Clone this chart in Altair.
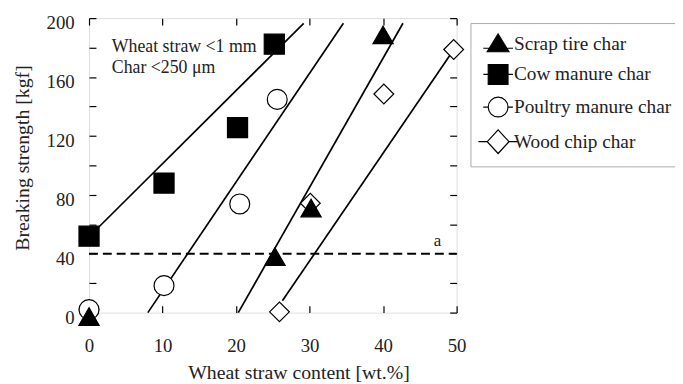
import altair as alt
import pandas as pd

series = ["Scrap tire char", "Cow manure char", "Poultry manure char", "Wood chip char"]

tire_x = [0, 25.3, 30.2, 40.0]
tire_y = [-2.7, 38, 71, 188.6]
cow_x = [0, 10.2, 20.2, 25.2]
cow_y = [51.9, 88, 125.7, 182.3]
poultry_x = [0, 10.2, 20.5, 25.6]
poultry_y = [2, 18.3, 73.8, 144.8]
wood_x = [0, 25.9, 30.1, 40.1, 49.6]
wood_y = [2, 0.5, 74.3, 148.5, 178.7]

# fitted lines (start / end points)
fit_x_start = [20.3, 0, 8.0, 26.3]
fit_y_start = [0, 51.5, 0, 8]
fit_x_end = [42.7, 29.2, 34.6, 49.6]
fit_y_end = [196.5, 196.5, 196.5, 178.5]

threshold = 40
threshold_label = "a"
threshold_label_pos = (47.4, 48.3)
note_lines = ["Wheat straw <1 mm", "Char <250 μm"]
note_x = [3.1, 3.1]
note_y = [180.5, 165.8]

x_ticks = [0, 10, 20, 30, 40, 50]
y_ticks = list(range(0, 201, 20))

FONT = "Liberation Serif"
TXT = "#222222"

rows = []
draw_order = {"Wood chip char": 0, "Poultry manure char": 1, "Cow manure char": 2, "Scrap tire char": 3}
for s, xs_, ys_ in zip(series, [tire_x, cow_x, poultry_x, wood_x], [tire_y, cow_y, poultry_y, wood_y]):
    for a, b in zip(xs_, ys_):
        rows.append({"series": s, "x": a, "y": b, "ord": draw_order[s]})
pts = pd.DataFrame(rows)

lrows = []
for s, x0, y0, x1, y1 in zip(series, fit_x_start, fit_y_start, fit_x_end, fit_y_end):
    lrows.append({"series": s, "x": x0, "y": y0})
    lrows.append({"series": s, "x": x1, "y": y1})
lines_df = pd.DataFrame(lrows)

xs = alt.Scale(domain=[0, 50], nice=False, zero=False)
ys = alt.Scale(domain=[0, 200], nice=False, zero=False)

shape_scale = alt.Scale(domain=series, range=["triangle-up", "square", "circle", "diamond"])
fill_scale = alt.Scale(domain=series, range=["black", "black", "white", "white"])
size_scale = alt.Scale(domain=series, range=[420, 400, 324, 529])
stroke_scale = alt.Scale(domain=series, range=["black", "black", "black", "black"])

legend_paths = [
    "M-1.5,0.45H1.5M0,-1L1.1,0.8H-1.1Z",
    "M-1.5,0H1.5M-1,-1H1V1H-1Z",
    "M-1.5,0H-1M1,0H1.5M1,0A1,1,0,1,1,-1,0A1,1,0,1,1,1,0Z",
    "M-2,0H-1.1M1.1,0H2M0,-1.2L1.1,0L0,1.2L-1.1,0Z",
]
legend_shape_scale = alt.Scale(domain=series, range=legend_paths)

common_axis = dict(
    grid=False, domain=False, tickSize=7, offset=-7, tickColor="black", tickWidth=1.2,
    labelFont=FONT, labelFontSize=19, labelColor=TXT, titleFont=FONT, titleFontSize=20,
    titleColor=TXT, titleFontWeight="normal", labelFlush=False,
)

lines = alt.Chart(lines_df).mark_line(color="black", strokeWidth=1.7).encode(
    x=alt.X("x:Q", scale=xs, axis=alt.Axis(
        orient="bottom", values=x_ticks, labelPadding=24, title="Wheat straw content [wt.%]",
        titlePadding=8, titleX=212, **common_axis)),
    y=alt.Y("y:Q", scale=ys, axis=alt.Axis(
        orient="left", values=y_ticks, labelPadding=15, labelOffset=5,
        labelExpr="datum.value % 40 == 0 ? datum.label : ''",
        title="Breaking strength [kgf]", titlePadding=14, titleY=141, **common_axis)),
    detail="series:N",
)

points = alt.Chart(pts).mark_point(stroke="black", strokeWidth=1.2, opacity=1, fillOpacity=1).encode(
    x=alt.X("x:Q", scale=xs, axis=alt.Axis(orient="top", values=x_ticks, labels=False, title=None, **common_axis)),
    y=alt.Y("y:Q", scale=ys, axis=alt.Axis(orient="right", values=y_ticks, labels=False, title=None, **common_axis)),
    shape=alt.Shape("series:N", scale=shape_scale, legend=None),
    fill=alt.Fill("series:N", scale=fill_scale, legend=None),
    size=alt.Size("series:N", scale=size_scale, legend=None),
    order=alt.Order("ord:Q"),
)

leg = dict(
    title=None, orient="none", legendX=386, legendY=5, symbolSize=400, symbolOffset=7,
    padding=10, rowPadding=7, labelOffset=5, labelFont=FONT, labelFontSize=19.5,
    labelColor=TXT, labelLimit=0, strokeColor="#aaaaaa", fillColor="white",
    symbolOpacity=1, symbolStrokeColor="black", symbolStrokeWidth=1.2,
)
legend_layer = alt.Chart(pts).mark_point(opacity=0, stroke="black").encode(
    x=alt.X("x:Q", scale=xs, axis=None),
    y=alt.Y("y:Q", scale=ys, axis=None),
    shape=alt.Shape("series:N", scale=legend_shape_scale, legend=alt.Legend(**leg)),
    fill=alt.Fill("series:N", scale=fill_scale, legend=alt.Legend(**leg)),
    stroke=alt.Stroke("series:N", scale=stroke_scale, legend=alt.Legend(**leg)),
)

thr_df = pd.DataFrame({"x": [0], "x2": [50], "y": [threshold]})
thr = alt.Chart(thr_df).mark_rule(color="black", strokeWidth=2, strokeDash=[9, 5]).encode(
    x=alt.X("x:Q", scale=xs, axis=None), x2="x2:Q", y=alt.Y("y:Q", scale=ys, axis=None)
)
thr_lab = alt.Chart(pd.DataFrame({"x": [threshold_label_pos[0]], "y": [threshold_label_pos[1]], "t": [threshold_label]})).mark_text(
    font=FONT, fontSize=17, color=TXT
).encode(x=alt.X("x:Q", scale=xs, axis=None), y=alt.Y("y:Q", scale=ys, axis=None), text="t:N")

notes = alt.Chart(pd.DataFrame({"x": note_x, "y": note_y, "t": note_lines})).mark_text(
    font=FONT, fontSize=18, color=TXT, align="left", baseline="middle"
).encode(x=alt.X("x:Q", scale=xs, axis=None), y=alt.Y("y:Q", scale=ys, axis=None), text="t:N")

chart = alt.layer(lines, thr, thr_lab, notes, legend_layer, points).resolve_scale(
    shape="independent", fill="independent", size="independent", stroke="independent"
).resolve_axis(x="independent", y="independent").properties(
    width=372, height=298,
    padding={"left": 82, "top": 8, "right": 221, "bottom": 70},
    autosize=alt.AutoSizeParams(type="none"),
).configure_view(stroke="black", strokeWidth=1.5).configure(background="white")

chart.save("out.html", embed_options={"renderer": "svg", "actions": False})
